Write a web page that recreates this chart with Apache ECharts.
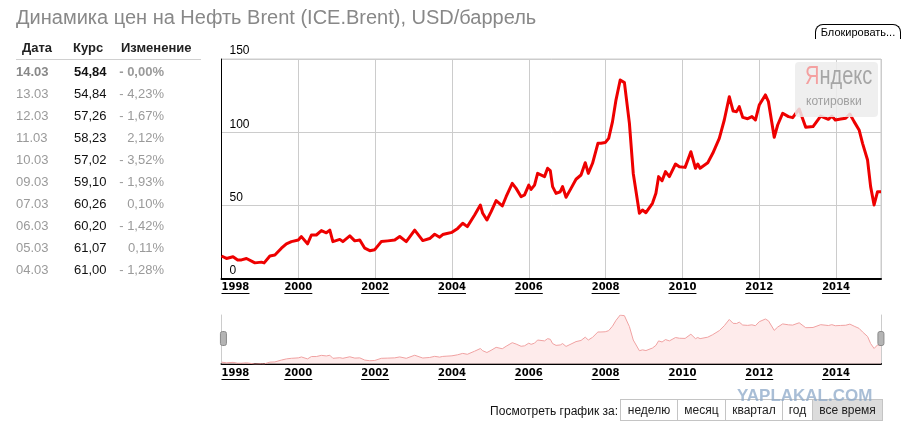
<!DOCTYPE html>
<html>
<head>
<meta charset="utf-8">
<script src="https://cdn.jsdelivr.net/npm/echarts@6/dist/echarts.min.js"></script>
<style>
  html, body { margin:0; padding:0; background:#fff; }
  #wrap { position:relative; width:901px; height:433px; overflow:hidden; font-family: Arial, "Liberation Sans", sans-serif; }
  #chart { position:absolute; left:0; top:0; width:901px; height:433px; }
  .abs { position:absolute; white-space:nowrap; }
  .title { left:16px; top:5px; font-size:20px; line-height:24px; color:#888; }
  .hd { font-size:13px; font-weight:bold; color:#222; line-height:16px; }
  .cell { font-size:13px; line-height:16px; }
  .btns { left:620px; top:399px; height:22px; display:flex; border:1px solid #c4c4c4; box-sizing:border-box; }
  .btns div { font-size:12px; line-height:20px; color:#222; text-align:center; border-right:1px solid #c4c4c4; box-sizing:border-box; }
  .btns div:last-child { border-right:none; background:#dcdcdc; }
</style>
</head>
<body>
<div id="wrap">
  <div id="chart"></div>
  <div class="abs title">Динамика цен на Нефть Brent (ICE.Brent), USD/баррель</div>
  <div class="abs hd" style="left:22px;top:40px">Дата</div>
  <div class="abs hd" style="left:73px;top:40px">Курс</div>
  <div class="abs hd" style="left:121px;top:40px">Изменение</div>
  <div class="abs" style="left:16px;top:59px;width:185px;height:1px;background:#d0d0d0"></div>
  <div id="rows"></div>
  <div class="abs" style="left:815px;top:24px;width:84px;height:14px;border:1px solid #000;border-bottom:none;border-radius:8px 8px 0 0;font-size:11px;line-height:14px;text-align:center;color:#000">Блокировать...</div>
  <div class="abs" style="right:283px;top:403px;font-size:12px;line-height:16px;color:#111;text-align:right">Посмотреть график за:</div>
  <div class="abs btns">
    <div style="width:57px">неделю</div>
    <div style="width:48px">месяц</div>
    <div style="width:57px">квартал</div>
    <div style="width:30px">год</div>
    <div style="width:69px">все время</div>
  </div>
  <div class="abs" style="left:737px;top:386px;font-size:17px;line-height:20px;font-weight:bold;color:rgba(140,168,200,0.75);letter-spacing:0px">YAPLAKAL.COM</div>
</div>
<script>
// ---- table data ----
const tableDates   = ['14.03','13.03','12.03','11.03','10.03','09.03','07.03','06.03','05.03','04.03'];
const tableRates   = ['54,84','54,84','57,26','58,23','57,02','59,10','60,26','60,20','61,07','61,00'];
const tableChanges = ['- 0,00%','- 4,23%','- 1,67%','2,12%','- 3,52%','- 1,93%','0,10%','- 1,42%','0,11%','- 1,28%'];

// ---- chart data (decimal year, USD/barrel) ----
const years = [
  1998.00,1998.13,1998.30,1998.42,1998.52,1998.65,1998.87,1999.04,1999.11,1999.26,
  1999.39,1999.56,1999.69,1999.82,2000.00,2000.08,2000.24,2000.34,2000.47,2000.60,
  2000.73,2000.82,2000.90,2001.08,2001.16,2001.34,2001.47,2001.60,2001.73,2001.86,
  2001.99,2002.16,2002.33,2002.51,2002.64,2002.81,2003.03,2003.24,2003.42,2003.55,
  2003.68,2003.76,2003.87,2004.00,2004.15,2004.28,2004.40,2004.59,2004.74,2004.80,
  2004.91,2005.02,2005.15,2005.31,2005.41,2005.57,2005.67,2005.80,2005.89,2006.00,
  2006.06,2006.15,2006.23,2006.41,2006.49,2006.56,2006.62,2006.71,2006.82,2006.88,
  2006.97,2007.10,2007.23,2007.36,2007.47,2007.55,2007.66,2007.80,2007.88,2007.99,
  2008.08,2008.18,2008.27,2008.38,2008.49,2008.62,2008.72,2008.88,2008.96,2009.05,
  2009.22,2009.31,2009.38,2009.47,2009.56,2009.66,2009.82,2009.92,2010.07,2010.22,
  2010.34,2010.40,2010.46,2010.66,2010.79,2010.96,2011.09,2011.22,2011.32,2011.41,
  2011.48,2011.57,2011.70,2011.81,2011.90,2012.00,2012.16,2012.24,2012.39,2012.48,
  2012.61,2012.76,2012.87,2013.04,2013.21,2013.40,2013.60,2013.80,2013.89,2013.98,
  2014.12,2014.25,2014.36,2014.47,2014.60,2014.69,2014.82,2014.90,2014.99,2015.08,
  2015.17
];
const prices = [
  15.7,14.0,15.2,13.0,13.0,14.0,11.0,11.5,11.0,15.7,
  16.3,21.0,24.0,25.5,26.6,28.9,24.0,30.0,30.0,33.0,
  31.5,33.3,25.5,27.0,25.5,29.4,26.0,26.6,21.0,19.3,
  20.0,25.5,26.0,26.6,29.0,25.5,33.3,26.2,27.6,30.5,
  28.5,30.3,31.0,31.8,34.5,38.0,35.7,43.6,50.4,44.8,
  40.2,45.9,53.4,49.8,56.1,65.2,61.8,56.1,57.3,64.0,
  61.1,64.0,72.0,69.8,75.5,73.9,63.0,58.4,59.5,63.0,
  55.7,61.8,68.0,70.9,79.3,72.0,78.9,92.5,92.5,93.0,
  95.9,107.3,122.0,135.7,133.9,106.1,72.0,44.8,47.0,45.2,
  51.6,58.4,69.8,67.0,73.2,69.8,78.4,76.6,76.1,86.8,
  75.5,78.4,75.5,79.3,85.7,95.9,108.4,124.3,114.5,114.1,
  117.5,110.2,109.3,110.7,108.4,118.6,125.5,120.9,96.6,105.0,
  113.0,110.7,110.0,115.9,103.4,103.9,111.1,108.9,111.1,108.4,
  109.1,109.6,112.5,107.3,101.6,92.5,81.1,63.0,50.5,59.5,
  59.5
];
const xStart = 1998, xEnd = 2015.17, xStep = 2;
const yMin = 0, yMax = 150, yStep = 50;

// ---- table ----
const rowsEl = document.getElementById('rows');
tableDates.forEach((d, i) => {
  const top = 63.7 + i * 22.03;
  const bold = i === 0 ? 'font-weight:bold;' : '';
  rowsEl.insertAdjacentHTML('beforeend',
    `<div class="abs cell" style="left:16px;top:${top}px;color:${i===0?'#888':'#9a9a9a'};${bold}">${d}</div>` +
    `<div class="abs cell" style="left:74px;top:${top}px;color:#111;${bold}">${tableRates[i]}</div>` +
    `<div class="abs cell" style="left:100px;width:64px;text-align:right;top:${top}px;color:#9a9a9a;${bold}">${tableChanges[i]}</div>`);
});

// ---- chart ----
const seriesData = years.map((t, i) => [t, prices[i]]);
const labelRich = {
  y: { fontFamily: 'DejaVu Sans', fontWeight: 'bold', fontSize: 10, color: '#000', lineHeight: 11 },
  u: { fontSize: 1, height: 1, lineHeight: 1, width: 28, backgroundColor: '#000' }
};
const xLabel = {
  margin: 3, showMaxLabel: false, alignMinLabel: 'left',
  formatter: v => '{y|' + v + '}\n{u| }', rich: labelRich
};
const chart = echarts.init(document.getElementById('chart'), null, { renderer: 'canvas' });
chart.setOption({
  animation: false,
  grid: [
    { left: 221.5, right: 20, top: 59, height: 220, show: true, borderColor: '#cccccc', borderWidth: 1, backgroundColor: 'transparent' },
    { left: 221.5, right: 20, top: 315, height: 49 }
  ],
  xAxis: [
    { type: 'value', gridIndex: 0, min: xStart, max: xEnd, interval: xStep,
      axisLine: { show: true, onZero: false, lineStyle: { color: '#000', width: 2 } },
      axisTick: { show: false },
      splitLine: { show: true, lineStyle: { color: '#cccccc', width: 1 } },
      axisLabel: xLabel },
    { type: 'value', gridIndex: 1, min: xStart, max: xEnd, interval: xStep,
      axisLine: { show: true, onZero: false, lineStyle: { color: '#000', width: 2 } },
      axisTick: { show: false },
      splitLine: { show: false },
      axisLabel: Object.assign({}, xLabel, { margin: 4 }) }
  ],
  yAxis: [
    { type: 'value', gridIndex: 0, min: yMin, max: yMax, interval: yStep,
      axisLine: { show: true, lineStyle: { color: '#000', width: 1 } },
      axisTick: { show: false },
      splitLine: { show: true, lineStyle: { color: '#cccccc', width: 1 } },
      axisLabel: { inside: true, margin: 8, verticalAlign: 'bottom', color: '#000', fontSize: 12,
                   fontFamily: 'Arial, Liberation Sans', padding: [0, 0, 2, 0] } },
    { type: 'value', gridIndex: 1, min: 'dataMin', max: 'dataMax',
      axisLine: { show: true, lineStyle: { color: '#cccccc' } },
      axisTick: { show: false }, axisLabel: { show: false }, splitLine: { show: false } },
    { type: 'value', gridIndex: 1, position: 'right', min: 'dataMin', max: 'dataMax',
      axisLine: { show: true, lineStyle: { color: '#cccccc' } },
      axisTick: { show: false }, axisLabel: { show: false }, splitLine: { show: false } }
  ],
  dataZoom: [{
    type: 'slider', xAxisIndex: 1, filterMode: 'none', start: 0, end: 100,
    left: 221.5, right: 20, top: 313, height: 51,
    backgroundColor: 'rgba(0,0,0,0)', borderColor: 'rgba(0,0,0,0)', fillerColor: 'rgba(0,0,0,0)',
    showDataShadow: false, showDetail: false, brushSelect: false, moveHandleSize: 0,
    handleIcon: 'path://M2,0 h2 a2,2 0 0 1 2,2 v10 a2,2 0 0 1 -2,2 h-2 a2,2 0 0 1 -2,-2 v-10 a2,2 0 0 1 2,-2 z',
    handleSize: 14,
    handleStyle: { color: '#b4b4b4', borderColor: '#8a8a8a', borderWidth: 1 },
    dataBackground: { lineStyle: { opacity: 0 }, areaStyle: { opacity: 0 } },
    selectedDataBackground: { lineStyle: { opacity: 0 }, areaStyle: { opacity: 0 } },
    textStyle: { color: 'transparent' }
  }],
  series: [
    { type: 'line', xAxisIndex: 0, yAxisIndex: 0, data: seriesData, showSymbol: false,
      lineStyle: { color: '#ee0000', width: 3, join: 'round' }, z: 3 },
    { type: 'line', xAxisIndex: 1, yAxisIndex: 1, data: seriesData, showSymbol: false,
      lineStyle: { color: '#f0a2a2', width: 1 }, areaStyle: { color: '#fde3e3', origin: 'start' } }
  ],
  graphic: [
    { type: 'rect', left: 795, top: 62, shape: { width: 83, height: 55, r: 4 },
      style: { fill: 'rgba(236,236,236,0.85)' }, z: 10 },
    { type: 'text', x: 805, y: 65, scaleX: 0.8, z: 11,
      style: { text: '{r|Я}{g|ндекс}', rich: {
        r: { fill: '#f4a0a0', fontSize: 25, fontFamily: 'Arial, Liberation Sans' },
        g: { fill: '#a6a6a6', fontSize: 25, fontFamily: 'Arial, Liberation Sans' } } } },
    { type: 'text', x: 806, y: 96, z: 11,
      style: { text: 'котировки', fill: '#a0a0a0', fontSize: 12, fontFamily: 'Arial' } }
  ]
});
</script>
</body>
</html>
